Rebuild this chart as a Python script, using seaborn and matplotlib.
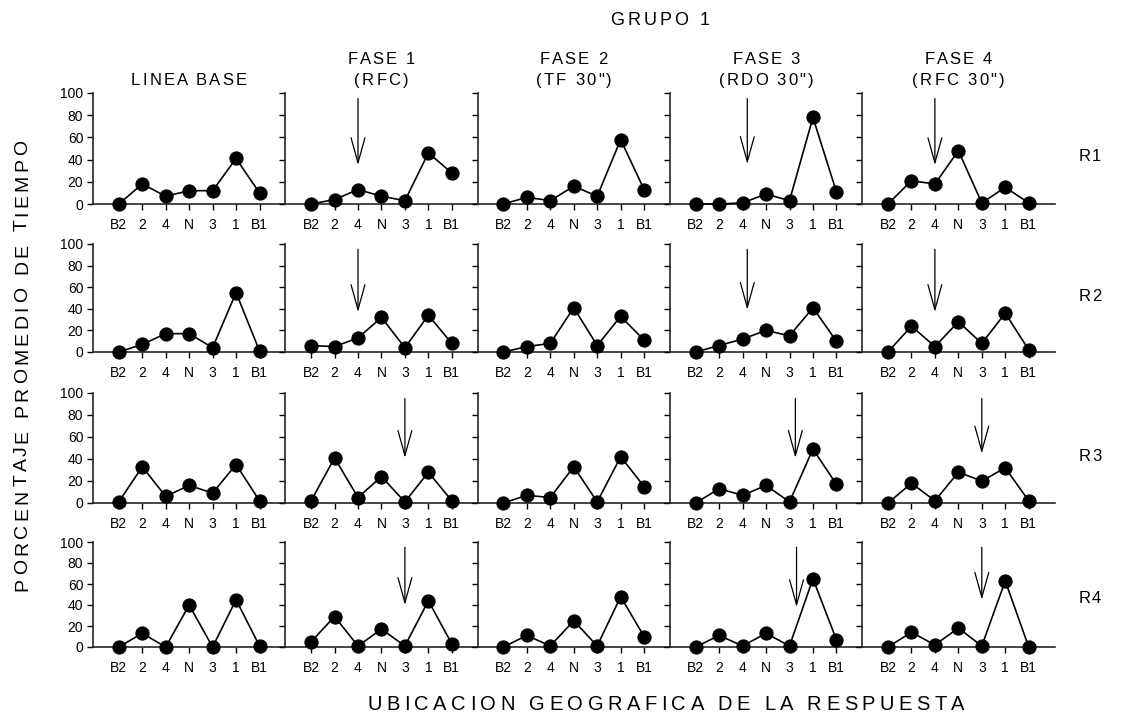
import matplotlib
matplotlib.use("Agg")
import matplotlib.pyplot as plt
import seaborn as sns
import numpy as np
import pandas as pd

# ---------------- data ----------------
categories = ["B2", "2", "4", "N", "3", "1", "B1"]
phase_line1 = ["", "FASE 1", "FASE 2", "FASE 3", "FASE 4"]
phase_line2 = ["LINEA BASE", "(RFC)", "(TF 30\")", "(RDO 30\")", "(RFC 30\")"]
row_labels = ["R1", "R2", "R3", "R4"]
yticks = [0, 20, 40, 60, 80, 100]

r1_base = [0, 18, 7, 12, 12, 41, 10]
r1_f1 = [0, 4, 13, 7, 3, 46, 28]
r1_f2 = [0, 6, 3, 16, 7, 58, 13]
r1_f3 = [0, 0, 1, 9, 3, 78, 11]
r1_f4 = [0, 21, 18, 48, 1, 15, 1]

r2_base = [0, 7, 17, 17, 4, 55, 1]
r2_f1 = [6, 5, 13, 32, 4, 34, 8]
r2_f2 = [0, 5, 8, 41, 6, 33, 11]
r2_f3 = [0, 6, 12, 20, 15, 41, 10]
r2_f4 = [0, 24, 5, 28, 8, 36, 2]

r3_base = [1, 33, 6, 16, 9, 35, 2]
r3_f1 = [2, 41, 5, 24, 1, 28, 2]
r3_f2 = [0, 7, 5, 33, 1, 42, 15]
r3_f3 = [0, 13, 7, 16, 1, 49, 17]
r3_f4 = [0, 18, 2, 28, 20, 32, 2]

r4_base = [0, 13, 0, 40, 0, 45, 1]
r4_f1 = [5, 29, 1, 17, 1, 44, 3]
r4_f2 = [0, 11, 1, 25, 1, 48, 10]
r4_f3 = [0, 11, 1, 13, 1, 65, 7]
r4_f4 = [0, 14, 2, 18, 1, 63, 0]

# arrows: (row, column, category position, tip value)
arrow_rows = [0, 0, 0, 1, 1, 1, 2, 2, 2, 3, 3, 3]
arrow_cols = [1, 3, 4, 1, 3, 4, 1, 3, 4, 1, 3, 4]
arrow_pos = [2, 2.2, 2, 2, 2.2, 2, 4, 4.25, 4, 4, 4.3, 4]
arrow_tip = [35, 36, 35, 37, 39, 37, 41, 41, 45, 40, 38, 45]
arrow_top = 95

rows_data = [
    [r1_base, r1_f1, r1_f2, r1_f3, r1_f4],
    [r2_base, r2_f1, r2_f2, r2_f3, r2_f4],
    [r3_base, r3_f1, r3_f2, r3_f3, r3_f4],
    [r4_base, r4_f1, r4_f2, r4_f3, r4_f4],
]

# ---------------- style ----------------
sns.set_style("ticks")
plt.rcParams["font.family"] = ["Liberation Sans", "DejaVu Sans"]
plt.rcParams["axes.linewidth"] = 1.2

W, H = 1123, 719
fig = plt.figure(figsize=(W / 100, H / 100), dpi=100)
renderer = fig.canvas.get_renderer()


def text_width(t, size):
    tt = fig.text(0, 0, t, fontsize=size)
    w = tt.get_window_extent(renderer).width
    tt.remove()
    return w


def tracked_text(cx, base, s, size, track, vertical=False):
    """Letter-spaced text centred on cx (px from left) with baseline at
    `base` (px from top). If vertical, cx is the vertical centre (px from
    top) and base the baseline x (px from left)."""
    bar = text_width("|", size)
    offs = [text_width(s[:i] + "|", size) - bar for i in range(len(s))]
    total = text_width(s + "|", size) - bar + track * (len(s) - 1)
    for i, ch in enumerate(s):
        if ch == " ":
            continue
        d = offs[i] + track * i - total / 2
        if not vertical:
            fig.text((cx + d) / W, 1 - base / H, ch, fontsize=size,
                     ha="left", va="baseline", color="black")
        else:
            fig.text(base / W, 1 - (cx - d) / H, ch, fontsize=size,
                     rotation=90, rotation_mode="anchor",
                     ha="left", va="baseline", color="black")


left_px = 93
col_w = 192.3
tops = [93, 244, 393, 542]
bots = [204, 352, 503, 647]

x_idx = np.arange(len(categories))
axes = []
for r in range(4):
    row_axes = []
    for c in range(5):
        ax = fig.add_axes([(left_px + c * col_w) / W, 1 - bots[r] / H,
                           col_w / W, (bots[r] - tops[r]) / H])
        df = pd.DataFrame({"pos": x_idx, "val": rows_data[r][c]})
        sns.lineplot(data=df, x="pos", y="val", ax=ax, color="black",
                     marker="o", markersize=9.5, linewidth=1.2,
                     markeredgecolor="black", clip_on=False, zorder=5)
        ax.set_xlim(-1.1, 7.1)
        ax.set_ylim(0, 100)
        sns.despine(ax=ax, top=True, right=True)
        ax.set_xticks(x_idx)
        ax.set_xticklabels(categories)
        ax.set_yticks(yticks)
        if c == 0:
            ax.set_yticklabels([str(v) for v in yticks])
        else:
            ax.set_yticklabels([])
        ax.tick_params(axis="both", direction="out", length=4, width=1.0,
                       labelsize=10, colors="black", pad=3)
        ax.tick_params(axis="x", pad=6)
        ax.set_xlabel("")
        ax.set_ylabel("")
        ax.patch.set_alpha(0)
        row_axes.append(ax)
    axes.append(row_axes)

# arrows
for r, c, p, tip in zip(arrow_rows, arrow_cols, arrow_pos, arrow_tip):
    ax = axes[r][c]
    ax.annotate("", xy=(p, tip), xytext=(p, arrow_top), size=10,
                arrowprops=dict(arrowstyle="->,head_length=1.8,head_width=0.5",
                                lw=0.9, color="black", shrinkA=0, shrinkB=0))

# column titles
for c in range(5):
    cx = left_px + c * col_w + 96
    if phase_line1[c]:
        tracked_text(cx, 64, phase_line1[c], 12, 2.2)
    tracked_text(cx, 85, phase_line2[c], 12, 2.2)

# row labels
row_label_y = [161, 301, 461, 603]
for r, lab in enumerate(row_labels):
    tracked_text(1090, row_label_y[r], lab, 12, 1.5)

tracked_text(660, 25, "GRUPO 1", 13, 3.0)
tracked_text(665, 710, "UBICACION GEOGRAFICA DE LA RESPUESTA", 14.5, 4.5)
tracked_text(365, 27, "PORCENTAJE PROMEDIO DE TIEMPO", 14, 3.5, vertical=True)

fig.savefig("out.png", dpi=100)
